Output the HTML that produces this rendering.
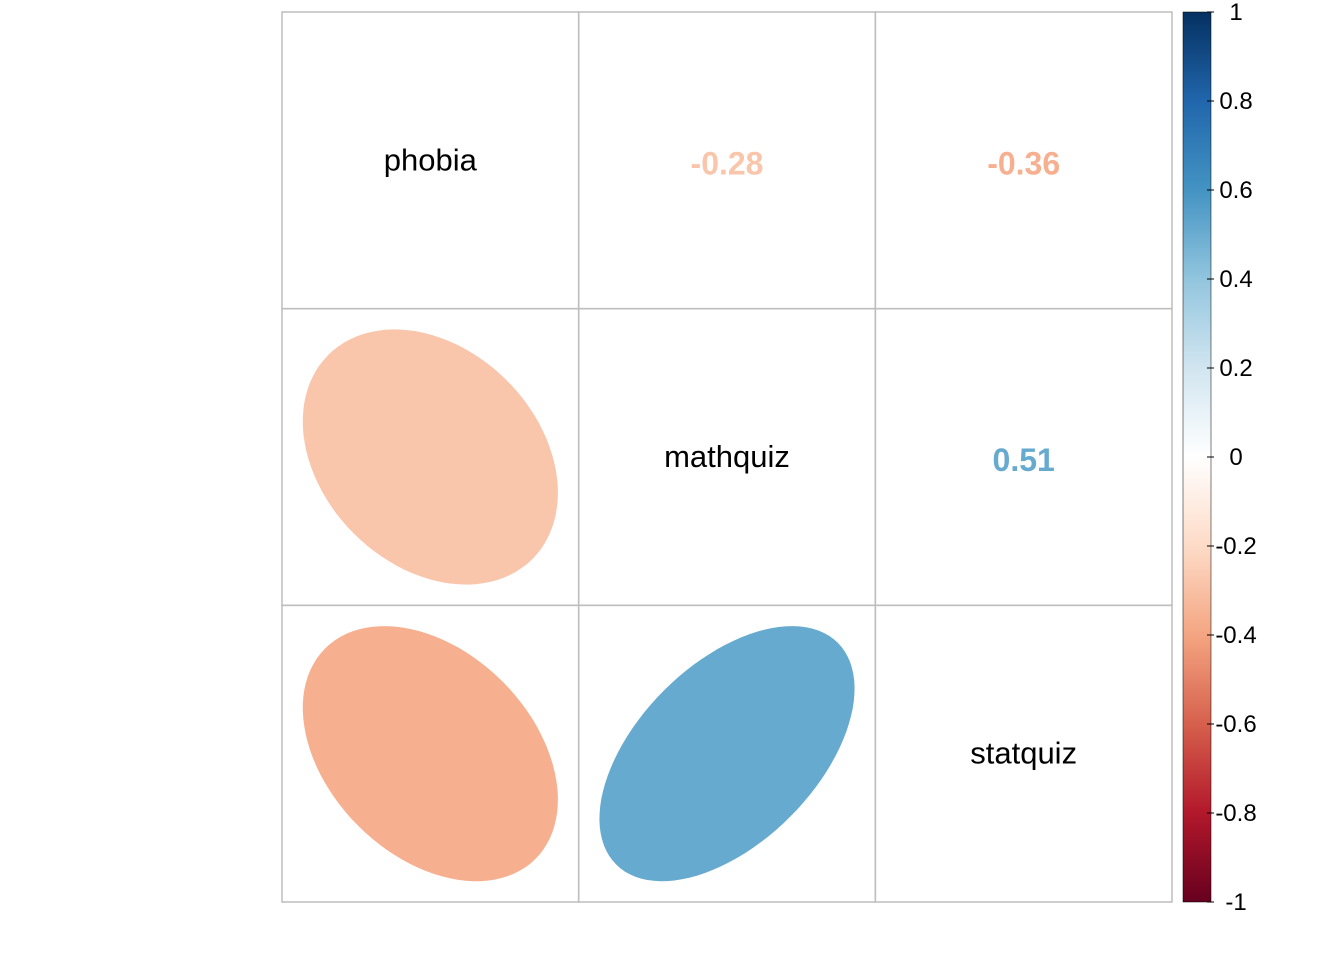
<!DOCTYPE html>
<html><head><meta charset="utf-8"><style>body{margin:0;background:#fff}svg{display:block}text{font-family:"Liberation Sans",Arial,sans-serif}</style></head>
<body>
<svg id="c" width="1344" height="960"></svg>
<script>
const vars=["phobia","mathquiz","statquiz"];
const corr=[[1,-0.28,-0.36],[-0.28,1,0.51],[-0.36,0.51,1]];
const barTicks=[1,0.8,0.6,0.4,0.2,0,-0.2,-0.4,-0.6,-0.8,-1];
const tickLabels=["1","0.8","0.6","0.4","0.2","0","-0.2","-0.4","-0.6","-0.8","-1"];
const stops=[["#67001F",-1],["#B2182B",-0.8],["#D6604D",-0.6],["#F4A582",-0.4],["#FDDBC7",-0.2],["#FFFFFF",0],["#D1E5F0",0.2],["#92C5DE",0.4],["#4393C3",0.6],["#2166AC",0.8],["#053061",1]];
const NS="http://www.w3.org/2000/svg",svg=document.getElementById('c');
const X0=282,Y0=12,W=890,H=890,n=3,cw=W/n,ch=H/n;
function mk(t,a,p){const e=document.createElementNS(NS,t);for(const k in a)e.setAttribute(k,a[k]);(p||svg).appendChild(e);return e;}
function hex(h){return[1,3,5].map(i=>parseInt(h.substr(i,2),16));}
function col(v){for(let i=0;i<stops.length-1;i++){const[a,va]=stops[i],[b,vb]=stops[i+1];if(v>=va&&v<=vb){const f=(v-va)/(vb-va),A=hex(a),B=hex(b);return"rgb("+A.map((x,j)=>Math.round(x+(B[j]-x)*f)).join(",")+")";}}return stops[stops.length-1][0];}
const by=v=>Y0+(1-v)/2*H;
for(let i=0;i<n;i++)for(let j=0;j<n;j++){
 const cx=X0+j*cw+cw/2,cy=Y0+i*ch+ch/2,r=corr[i][j];
 const cell=mk('rect',{x:X0+j*cw,y:Y0+i*ch,width:cw,height:ch,fill:'none',stroke:'#bebebe','stroke-width':1.5});
 
 
 if(i===j){const t=mk('text',{x:cx,y:cy+10,'text-anchor':'middle','font-size':31,fill:'#000'});t.textContent=vars[i];
  
  }
 else if(j>i){const t=mk('text',{x:cx,y:cy+14,'text-anchor':'middle','font-size':32,'font-weight':'bold',fill:col(r)});t.textContent=r.toFixed(2);
  
  }
 else{const d=Math.acos(r),s=cw/2*0.86;let p=[];
  for(let k=0;k<100;k++){const t=2*Math.PI*k/100;p.push((cx+s*Math.cos(t+d/2)).toFixed(1)+","+(cy-s*Math.cos(t-d/2)).toFixed(1));}
  const e=mk('polygon',{points:p.join(" "),fill:col(r)});
  
  }
}
const defs=mk('defs',{});const g=mk('linearGradient',{id:'g',x1:0,y1:1,x2:0,y2:0},defs);
stops.forEach(([c,v])=>mk('stop',{offset:(v+1)/2,'stop-color':c},g));
const bar=mk('rect',{x:1183,y:Y0,width:28,height:H,fill:'url(#g)',stroke:'#000','stroke-width':0.5});


barTicks.forEach((v,i)=>{const y=by(v);
 mk('line',{x1:1207,x2:1214,y1:y,y2:y,stroke:'#000','stroke-width':1});
 const t=mk('text',{x:1236,y:y+8,'text-anchor':'middle','font-size':24,fill:'#000'});t.textContent=tickLabels[i];
 
 });
</script>
</body></html>
